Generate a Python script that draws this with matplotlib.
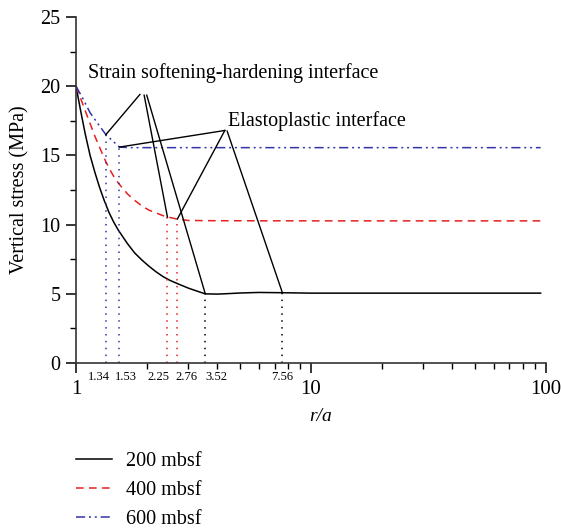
import numpy as np
import matplotlib
matplotlib.use('Agg')
import matplotlib.pyplot as plt
import matplotlib.transforms as mtransforms
from matplotlib.ticker import FixedLocator, NullFormatter, LogLocator

plt.rcParams['font.family'] = ['Liberation Serif', 'DejaVu Serif']

# data
r200 = [1, 1.047, 1.096, 1.148, 1.202, 1.259, 1.318, 1.380, 1.445, 1.514, 1.585, 1.660,
        1.778, 1.905, 2.042, 2.188, 2.344, 2.512, 2.754, 3.02, 3.31, 3.55, 4.0, 4.5, 5.0,
        6.0, 7.56, 10, 20, 50, 95]
s200 = [20, 18.2, 16.5, 15.0, 13.8, 12.7, 11.75, 10.9, 10.2, 9.6, 9.1, 8.6,
        7.95, 7.45, 7.0, 6.6, 6.25, 5.97, 5.68, 5.4, 5.17, 5.0, 4.98, 5.02, 5.06,
        5.1, 5.08, 5.05, 5.05, 5.05, 5.05]

r400 = [1, 1.047, 1.096, 1.148, 1.202, 1.259, 1.318, 1.380, 1.445, 1.514, 1.585, 1.660,
        1.778, 1.905, 2.042, 2.188, 2.344, 2.45, 2.70, 3.0, 4.0, 10, 95]
s400 = [20, 19.1, 18.2, 17.3, 16.4, 15.6, 14.8, 14.1, 13.5, 13.0, 12.6, 12.2,
        11.75, 11.35, 11.05, 10.85, 10.65, 10.55, 10.4, 10.3, 10.28, 10.27, 10.27]

r600 = [1, 1.07, 1.148, 1.25, 1.34, 1.53, 1.7, 3, 10, 95]
s600 = [20, 19.1, 18.08, 17.2, 16.5, 15.6, 15.56, 15.56, 15.56, 15.56]

# interface positions (where the dotted drop lines sit) and their values
iface_r = [1.34, 1.53, 2.45, 2.70, 3.55, 7.56]
iface_s = [16.5, 15.6, 10.55, 10.4, 5.0, 5.08]
iface_c = ['#3333aa', '#3333aa', '#e62020', '#e62020', 'black', 'black']

# labels under the axis (placed by hand in the original)
lab_text = ['1.34', '1.53', '2.25', '2.76', '3.52', '7.56']
lab_x = [1.256, 1.627, 2.234, 2.96, 3.97, 7.51]

# annotation apexes
soft_apex = [(1.87, 19.4), (1.95, 19.35), (2.0, 19.35)]
soft_targets = [0, 2, 4]
elas_apex = [(4.3, 16.8), (4.3, 16.8), (4.4, 16.75)]
elas_targets = [1, 3, 5]

fig = plt.figure(figsize=(5.61, 5.30), dpi=100)
ax = fig.add_axes([0.1355, 0.315, 0.8375, 0.653])

ax.plot(r200, s200, color='black', lw=1.1, label='200 mbsf')
ax.plot(r400, s400, color='#e62020', lw=1.1, ls=(0, (5, 3.5)), label='400 mbsf')
ax.plot(r600, s600, color='#3333aa', lw=1.1, ls=(0, (6, 2.5, 1.3, 2.5, 1.3, 2.5)),
        label='600 mbsf')

for x, y, c in zip(iface_r, iface_s, iface_c):
    ax.plot([x, x], [0, y], color=c, lw=1.1, ls=(0, (1, 3.5)))

for (ax0, ay0), t in zip(soft_apex, soft_targets):
    ax.plot([ax0, iface_r[t]], [ay0, iface_s[t]], color='black', lw=1.0)
for (ax0, ay0), t in zip(elas_apex, elas_targets):
    ax.plot([ax0, iface_r[t]], [ay0, iface_s[t]], color='black', lw=1.0)

ax.text(1.12, 20.95, 'Strain softening-hardening interface', fontsize=14.5,
        ha='left', va='center')
ax.text(4.42, 17.45, 'Elastoplastic interface', fontsize=14.5, ha='left', va='center')

ax.set_xscale('log')
ax.set_xlim(1, 100)
ax.set_ylim(0, 25)
ax.set_xticks([1, 10, 100])
ax.set_xticklabels(['1', '10', '100'])
ax.xaxis.set_minor_locator(LogLocator(base=10, subs=np.arange(2, 10)))
ax.xaxis.set_minor_formatter(NullFormatter())
ax.set_yticks([0, 5, 10, 15, 20, 25])
ax.yaxis.set_minor_locator(FixedLocator([2.5, 7.5, 12.5, 17.5, 22.5]))

ax.tick_params(axis='x', which='major', direction='out', length=7, width=1.1,
               labelsize=15, pad=5)
ax.tick_params(axis='y', which='major', direction='out', length=7, width=1.1,
               labelsize=14.5, pad=4)
ax.tick_params(which='minor', direction='out', length=4, width=1.0)

for s in ['top', 'right']:
    ax.spines[s].set_visible(False)
for s in ['left', 'bottom']:
    ax.spines[s].set_linewidth(1.2)
    ax.spines[s].set_color('#333333')

trans = mtransforms.blended_transform_factory(ax.transData, ax.transAxes)
for x, t in zip(lab_x, lab_text):
    ax.text(x, -0.041, t, transform=trans, fontsize=9, ha='center', va='center')

ax.set_xlabel('r/a', fontsize=14, style='italic')
ax.xaxis.set_label_coords(0.52, -0.13)
ax.set_ylabel('Vertical stress (MPa)', fontsize=14.5)
ax.yaxis.set_label_coords(-0.1, 0.5)

fig.legend(loc='upper left', bbox_to_anchor=(0.136, 0.148), frameon=False,
           fontsize=14.5, handlelength=1.75, handletextpad=0.7, labelspacing=0.5,
           borderpad=0, borderaxespad=0)

fig.savefig('out.png', dpi=100)
